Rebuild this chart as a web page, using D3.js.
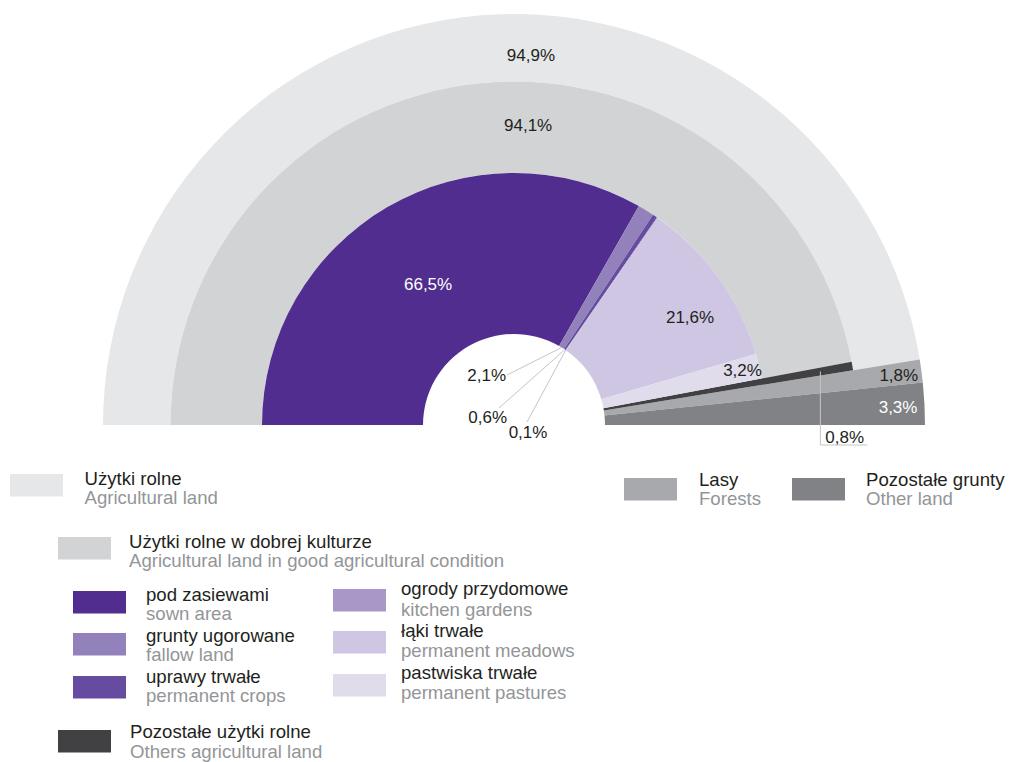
<!DOCTYPE html>
<html lang="pl">
<head>
<meta charset="utf-8">
<script src="https://cdn.jsdelivr.net/npm/d3@7"></script>
<style>
  html, body { margin: 0; padding: 0; background: #fff; }
  svg { display: block; font-family: "Liberation Sans", Arial, Helvetica, sans-serif; }
</style>
</head>
<body>
<svg id="chart" width="1009" height="762"></svg>
<script>
// Land use structure, % of total area
const landNames   = ["Użytki rolne", "Lasy", "Pozostałe grunty"];
const landNamesEn = ["Agricultural land", "Forests", "Other land"];
const landValues  = [94.9, 1.8, 3.3];

// Agricultural land split
const agriNames   = ["Użytki rolne w dobrej kulturze", "Pozostałe użytki rolne"];
const agriNamesEn = ["Agricultural land in good agricultural condition", "Others agricultural land"];
const agriValues  = [94.1, 0.8];

// Agricultural land in good condition split
const goodNames   = ["pod zasiewami", "grunty ugorowane", "uprawy trwałe", "ogrody przydomowe", "łąki trwałe", "pastwiska trwałe"];
const goodNamesEn = ["sown area", "fallow land", "permanent crops", "kitchen gardens", "permanent meadows", "permanent pastures"];
const goodValues  = [66.5, 2.1, 0.6, 0.1, 21.6, 3.2];

const landColors = ["#e6e7e8", "#a7a9ac", "#808285"];
const agriColors = ["#d1d3d4", "#414042"];
const goodColors = ["#502d8e", "#9381bb", "#654ca0", "#a898c8", "#cec6e2", "#e0dcec"];

const TEXT = "#231f20", TEXT2 = "#939598", LEADER = "#c4c5c7";

const svg = d3.select("#chart");
const cx = 514, cy = 425;
const rHole = 91, rInner = 252, rMiddle = 343.5, rOuter = 411;

// Half circle: 0 % on the left, 100 % on the right
const angle = d3.scaleLinear().domain([0, 100]).range([-Math.PI / 2, Math.PI / 2]);
const polar = (p, r) => [cx + r * Math.sin(angle(p)), cy - r * Math.cos(angle(p))];

const locale = d3.formatLocale({ decimal: ",", thousands: "\u00a0", grouping: [3], currency: ["", " zł"] });
const pct = v => locale.format(".1f")(v) + "%";

function stack(values, colors, radii) {
  let acc = 0;
  return values.map((v, i) => {
    const s = acc; acc += v;
    return { i, value: v, start: s, end: acc, color: colors[i], r0: radii(i)[0], r1: radii(i)[1] };
  });
}

const levels = {
  land: stack(landValues, landColors, i => i === 0 ? [rMiddle, rOuter] : [rHole, rOuter]),
  agri: stack(agriValues, agriColors, i => i === 0 ? [rInner, rMiddle] : [rHole, rMiddle]),
  good: stack(goodValues, goodColors, () => [rHole, rInner])
};

const arc = d3.arc()
  .innerRadius(d => d.r0)
  .outerRadius(d => d.r1)
  .startAngle(d => angle(d.start))
  .endAngle(d => angle(d.end));

const gArcs = svg.append("g").attr("transform", `translate(${cx},${cy})`);
["land", "agri", "good"].forEach(key => {
  gArcs.selectAll(`path.${key}`)
    .data(levels[key])
    .join("path")
    .attr("class", key)
    .attr("d", arc)
    .attr("fill", d => d.color);
});

// Labels placed inside their segments (position along the half circle, radius)
const insideLabels = [
  { key: "land", i: 0, p: 51.46, r: 370, fill: TEXT },
  { key: "agri", i: 0, p: 51.5, r: 300, fill: TEXT },
  { key: "good", i: 0, p: 32.57, r: 165, fill: "#ffffff" },
  { key: "good", i: 4, p: 82.5, r: 206.5, fill: TEXT },
  { key: "good", i: 5, p: 92.5, r: 235, fill: TEXT },
  { key: "land", i: 1, p: 95.9, r: 388, fill: TEXT },
  { key: "land", i: 2, p: 98.5, r: 384.5, fill: "#ffffff" }
];

const gLabels = svg.append("g").attr("font-size", 17);
gLabels.selectAll("text.inside")
  .data(insideLabels)
  .join("text")
  .attr("class", "inside")
  .attr("x", d => polar(d.p, d.r)[0])
  .attr("y", d => polar(d.p, d.r)[1])
  .attr("dy", "0.35em")
  .attr("text-anchor", "middle")
  .attr("fill", d => d.fill)
  .text(d => pct(levels[d.key][d.i].value));

// Small slices: leader lines from the inner edge of the slice to the label
const leaderLabels = [
  { key: "good", i: 1, end: [-7, -50], tdx: -1, tdy: 6, anchor: "end" },
  { key: "good", i: 2, end: [-15, -17], tdx: 8, tdy: 15, anchor: "end" },
  { key: "good", i: 3, end: [13, -3], tdx: 1, tdy: 16, anchor: "middle" }
];

leaderLabels.forEach(d => {
  const s = levels[d.key][d.i];
  const a = polar((s.start + s.end) / 2, s.r0);
  const ex = cx + d.end[0], ey = cy + d.end[1];
  svg.append("line")
    .attr("x1", a[0]).attr("y1", a[1])
    .attr("x2", ex).attr("y2", ey)
    .attr("stroke", LEADER).attr("stroke-width", 1);
  gLabels.append("text")
    .attr("x", ex + d.tdx).attr("y", ey + d.tdy)
    .attr("text-anchor", d.anchor)
    .attr("fill", TEXT)
    .text(pct(s.value));
});

// Others agricultural land: elbow leader below the half circle
{
  const s = levels.agri[1];
  const a = polar((s.start + s.end) / 2, 311);
  const yLine = cy + 20, xEnd = a[0] + 47;
  svg.append("path")
    .attr("d", `M${a[0]},${a[1]}V${yLine}H${xEnd}`)
    .attr("fill", "none")
    .attr("stroke", LEADER)
    .attr("stroke-width", 1);
  gLabels.append("text")
    .attr("x", a[0] + 5).attr("y", yLine - 2)
    .attr("fill", TEXT)
    .text(pct(s.value));
}

// Legend
const names = { land: landNames, agri: agriNames, good: goodNames };
const namesEn = { land: landNamesEn, agri: agriNamesEn, good: goodNamesEn };
const legendLayout = [
  { key: "land", i: 0, x: 10,  y: 474, tx: 84.5, b1: 485,   b2: 504 },
  { key: "agri", i: 0, x: 58,  y: 537, tx: 129,  b1: 548,   b2: 567 },
  { key: "good", i: 0, x: 73,  y: 591, tx: 146,  b1: 600.5, b2: 619.5 },
  { key: "good", i: 1, x: 73,  y: 633, tx: 146,  b1: 642,   b2: 661 },
  { key: "good", i: 2, x: 73,  y: 676, tx: 146,  b1: 683,   b2: 702 },
  { key: "good", i: 3, x: 333, y: 589, tx: 401,  b1: 595,   b2: 615.5 },
  { key: "good", i: 4, x: 333, y: 631, tx: 401,  b1: 637,   b2: 657 },
  { key: "good", i: 5, x: 333, y: 674, tx: 401,  b1: 678.5, b2: 698.5 },
  { key: "agri", i: 1, x: 58,  y: 730, tx: 130,  b1: 738,   b2: 757.5 },
  { key: "land", i: 1, x: 624, y: 478, tx: 699,  b1: 486,   b2: 505 },
  { key: "land", i: 2, x: 792, y: 478, tx: 866,  b1: 486,   b2: 505 }
];

const gLegend = svg.append("g").attr("font-size", 18.6);
const items = gLegend.selectAll("g.item")
  .data(legendLayout)
  .join("g")
  .attr("class", "item");

items.append("rect")
  .attr("x", d => d.x).attr("y", d => d.y)
  .attr("width", 53).attr("height", 22.5)
  .attr("fill", d => levels[d.key][d.i].color);

items.append("text")
  .attr("x", d => d.tx).attr("y", d => d.b1)
  .attr("fill", TEXT)
  .text(d => names[d.key][d.i]);

items.append("text")
  .attr("x", d => d.tx).attr("y", d => d.b2)
  .attr("fill", TEXT2)
  .text(d => namesEn[d.key][d.i]);
</script>
</body>
</html>
